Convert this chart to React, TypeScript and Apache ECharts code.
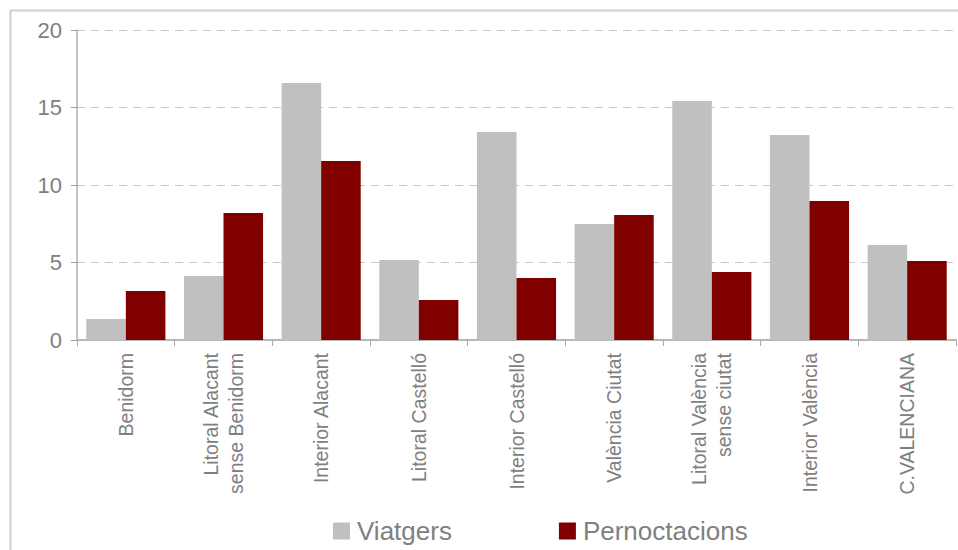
import React, { useEffect, useRef } from "react";
import * as echarts from "echarts";

const categories = [
  "Benidorm",
  "Litoral Alacant\nsense Benidorm",
  "Interior Alacant",
  "Litoral Castelló",
  "Interior Castelló",
  "València Ciutat",
  "Litoral València\nsense ciutat",
  "Interior València",
  "C.VALENCIANA",
];
const viatgers = [1.35, 4.13, 16.58, 5.16, 13.42, 7.48, 15.42, 13.23, 6.13];
const pernoctacions = [3.16, 8.19, 11.55, 2.58, 4.0, 8.06, 4.39, 8.97, 5.1];
const yTicks = { min: 0, max: 20, interval: 5 };

const FONT = "Liberation Sans";

export default function App() {
  const ref = useRef<HTMLDivElement>(null);
  useEffect(() => {
    document.body.style.margin = "0";
    if (!ref.current) return;
    const chart = echarts.init(ref.current, null, { renderer: "svg" });
    chart.setOption({
      animation: false,
      backgroundColor: "#ffffff",
      textStyle: { fontFamily: FONT },
      graphic: [
        {
          type: "rect",
          shape: { x: 10.5, y: 10.5, width: 1200, height: 1000 },
          style: { fill: "none", stroke: "#d0d0d0", lineWidth: 2 },
          silent: true,
          z: -10,
        },
      ],
      grid: { left: 77, right: 2, top: 30, bottom: 210, containLabel: false },
      legend: {
        left: 333,
        top: 518,
        padding: 0,
        itemWidth: 17,
        itemHeight: 17,
        itemGap: 107,
        icon: "rect",
        textStyle: { fontSize: 26, color: "#808080", fontFamily: FONT, padding: [0, 0, 0, 2] },
        data: ["Viatgers", "Pernoctacions"],
      },
      xAxis: {
        type: "category",
        data: categories,
        axisLine: { show: true, lineStyle: { color: "#b8b8b8", width: 2 } },
        axisTick: { show: true, length: 6, lineStyle: { color: "#a8a8a8" } },
        axisLabel: {
          rotate: 90,
          interval: 0,
          margin: 13,
          fontSize: 19.5,
          lineHeight: 25,
          color: "#808080",
          fontFamily: FONT,
        },
      },
      yAxis: {
        type: "value",
        min: yTicks.min,
        max: yTicks.max,
        interval: yTicks.interval,
        axisLine: { show: true, lineStyle: { color: "#b0b0b0", width: 1.5 } },
        axisTick: { show: true, length: 6, lineStyle: { color: "#a0a0a0" } },
        axisLabel: { fontSize: 22, color: "#808080", margin: 15, fontFamily: FONT },
        splitLine: { show: true, lineStyle: { type: [8, 6], color: "#c8c8c8", width: 1 } },
      },
      series: [
        {
          name: "Viatgers",
          type: "bar",
          data: viatgers,
          itemStyle: { color: "#c0c0c0" },
          barGap: "0%",
          barCategoryGap: "19%",
        },
        {
          name: "Pernoctacions",
          type: "bar",
          data: pernoctacions,
          itemStyle: { color: "#800000" },
          barGap: "0%",
          barCategoryGap: "19%",
        },
      ],
    });
    return () => chart.dispose();
  }, []);
  return <div ref={ref} style={{ width: 958, height: 550 }} />;
}
